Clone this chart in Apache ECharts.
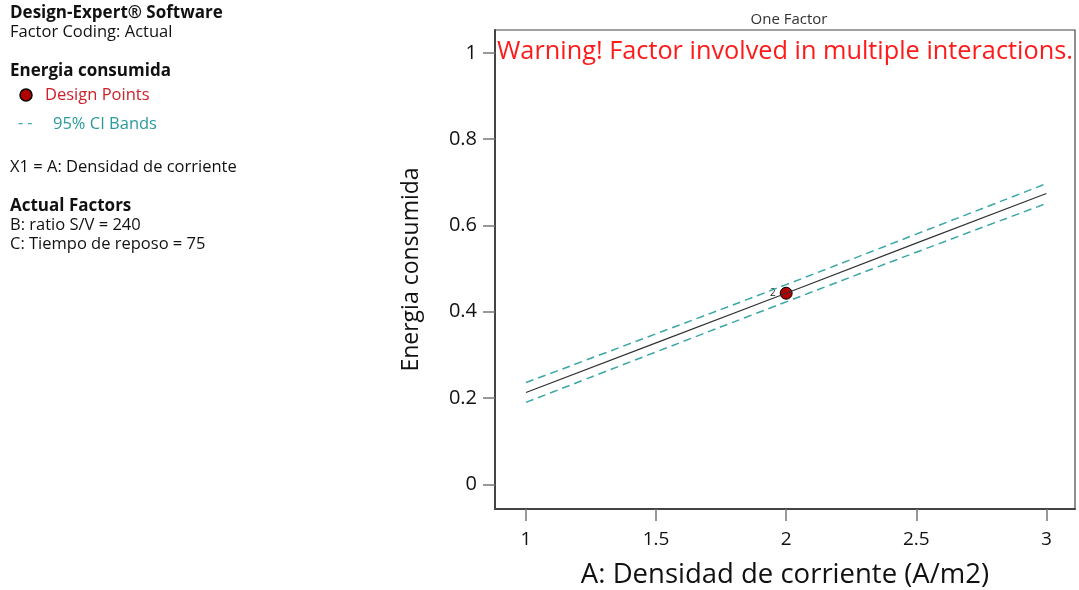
<!DOCTYPE html>
<html><head><meta charset="utf-8">
<script src="https://cdn.jsdelivr.net/npm/echarts@6/dist/echarts.min.js"></script>
<style>html,body{margin:0;padding:0;background:#fff}#c{width:1079px;height:590px}</style>
</head><body><div id="c"></div>
<script>
// Data
const xValues = [1, 1.5, 2, 2.5, 3];
const meanLine = [0.213, 0.328, 0.443, 0.559, 0.674];
const upperCI = [0.236, 0.349, 0.463, 0.580, 0.697];
const lowerCI = [0.190, 0.307, 0.423, 0.538, 0.651];
const designPoints = [[2, 0.443]];
const designPointLabels = ['2'];
const xTicks = [1, 1.5, 2, 2.5, 3];
const yTicks = [0, 0.2, 0.4, 0.6, 0.8, 1];

const FONT = '"Open Sans", "Noto Sans", sans-serif';
const pair = (xs, ys) => xs.map((x, i) => [x, ys[i]]);

const leftPanel = [
  {t: 'Design-Expert® Software', y: 14, bold: true},
  {t: 'Factor Coding: Actual', y: 33},
  {t: 'Energia consumida', y: 72, bold: true},
  {t: 'X1 = A: Densidad de corriente', y: 168},
  {t: 'Actual Factors', y: 207, bold: true},
  {t: 'B: ratio S/V = 240', y: 226},
  {t: 'C: Tiempo de reposo = 75', y: 245}
];

const graphics = leftPanel.map(l => ({
  type: 'text', left: 10, top: l.y - 9,
  style: {text: l.t, font: (l.bold ? 'bold 17px ' : '16.5px ') + FONT, fill: '#111'}
}));
graphics.push(
  {type: 'circle', shape: {cx: 26, cy: 95, r: 6}, style: {fill: '#b00000', stroke: '#000', lineWidth: 1.5}},
  {type: 'text', left: 45, top: 87, style: {text: 'Design Points', font: '16.5px ' + FONT, fill: '#d0202a'}},
  {type: 'text', left: 18, top: 115, style: {text: '- -', font: '16px ' + FONT, fill: '#3aa6a6'}},
  {type: 'text', left: 53, top: 116, style: {text: '95% CI Bands', font: '16.5px ' + FONT, fill: '#2a9a9a'}},
  {type: 'text', left: 497, top: 39, style: {text: 'Warning! Factor involved in multiple interactions.', font: '25.3px ' + FONT, fill: '#ff1a1a'}}
);

const chart = echarts.init(document.getElementById('c'));
chart.setOption({
  animation: false,
  title: {text: 'One Factor', left: 784, top: 7, textAlign: 'center',
    textStyle: {fontFamily: FONT, fontSize: 15, fontWeight: 'normal', color: '#333'}},
  grid: {left: 495, right: 4, top: 30, bottom: 81, containLabel: false, outerBoundsMode: 'none',
    show: true, borderColor: '#444', borderWidth: 1.2},
  xAxis: {
    type: 'value', min: 0.881, max: 3.11,
    name: 'A: Densidad de corriente (A/m2)', nameLocation: 'middle', nameGap: 52,
    nameTextStyle: {fontFamily: FONT, fontSize: 27.5, color: '#111'},
    axisLine: {show: true, onZero: false, lineStyle: {color: '#444', width: 2}},
    axisTick: {show: true, length: 12, customValues: xTicks, lineStyle: {color: '#777', width: 1.5}},
    axisLabel: {customValues: xTicks, margin: 21, fontFamily: FONT, fontSize: 19, color: '#111'},
    splitLine: {show: false}
  },
  yAxis: {
    type: 'value', min: -0.057, max: 1.053,
    name: 'Energia consumida', nameLocation: 'middle', nameGap: 72,
    nameTextStyle: {fontFamily: FONT, fontSize: 23, color: '#111'},
    axisLine: {show: true, onZero: false, lineStyle: {color: '#444', width: 2}},
    axisTick: {show: true, length: 12, customValues: yTicks, lineStyle: {color: '#777', width: 1.5}},
    axisLabel: {customValues: yTicks, margin: 18, fontFamily: FONT, fontSize: 20, color: '#111'},
    splitLine: {show: false}
  },
  series: [
    {type: 'line', data: pair(xValues, upperCI), symbol: 'none', smooth: true,
      lineStyle: {color: '#3aa6a6', width: 1.5, type: [8, 5]}},
    {type: 'line', data: pair(xValues, lowerCI), symbol: 'none', smooth: true,
      lineStyle: {color: '#3aa6a6', width: 1.5, type: [8, 5]}},
    {type: 'line', data: pair(xValues, meanLine), symbol: 'none',
      lineStyle: {color: '#333', width: 1.2}},
    {type: 'scatter', data: designPoints, symbolSize: 12,
      itemStyle: {color: '#b00000', opacity: 1, borderColor: '#000', borderWidth: 1},
      label: {show: true, position: 'left', distance: 4, formatter: p => designPointLabels[p.dataIndex],
        fontFamily: FONT, fontSize: 10, color: '#222'}}
  ],
  graphic: graphics
});
</script></body></html>
